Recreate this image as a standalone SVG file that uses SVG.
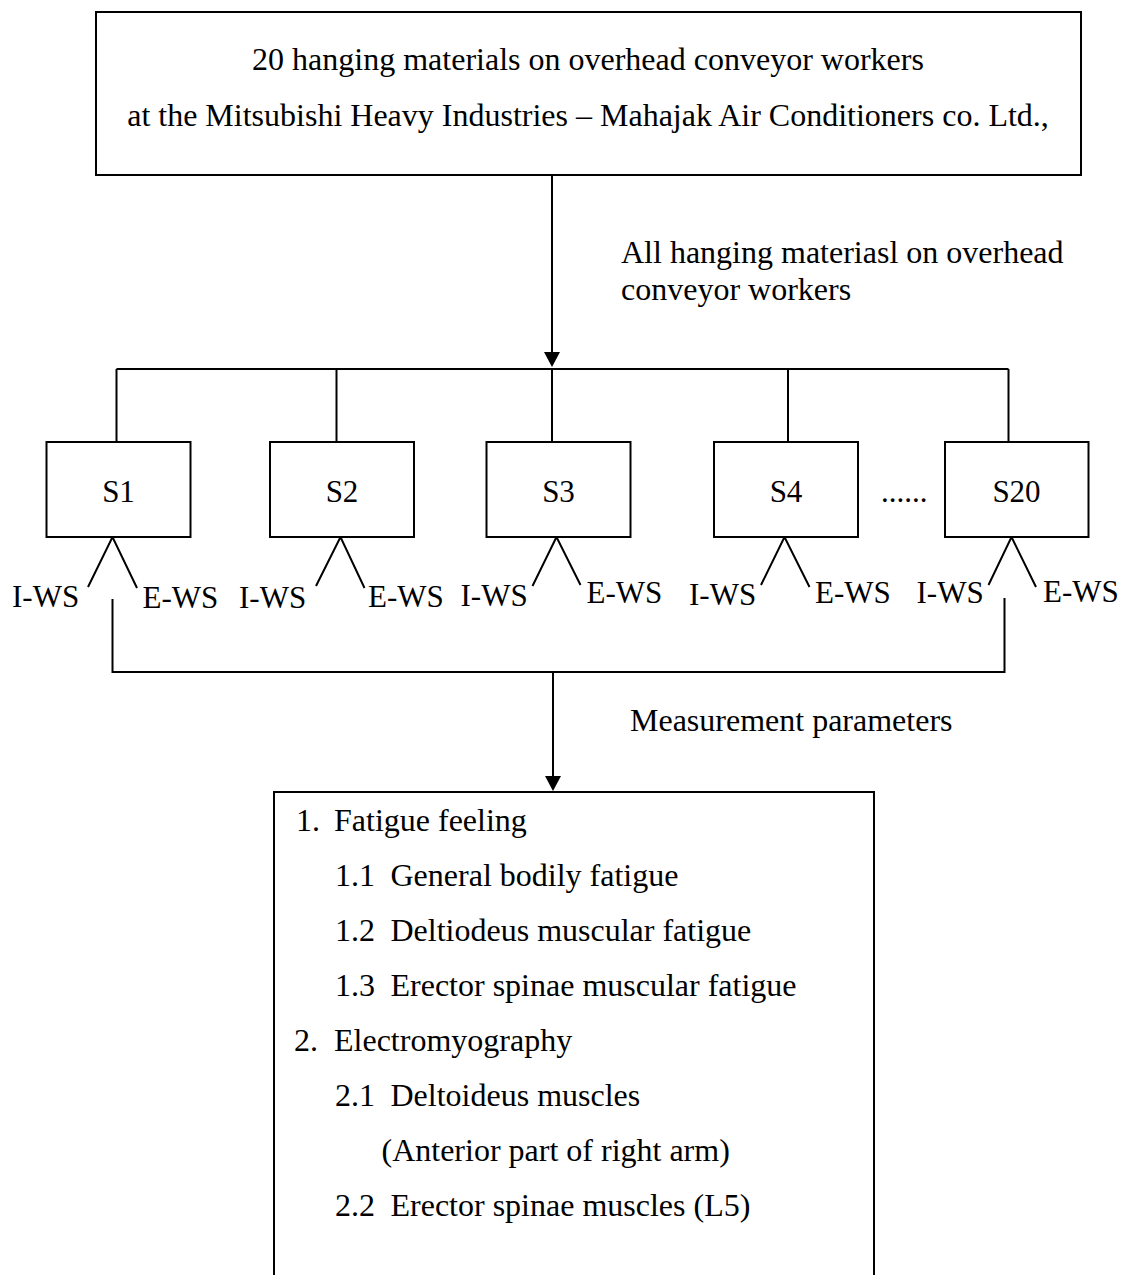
<svg xmlns="http://www.w3.org/2000/svg" width="1128" height="1275" viewBox="0 0 1128 1275">
<style>
  text { font-family: "Liberation Serif", "Times New Roman", serif; fill: #000; }
  .t32 { font-size: 32px; }
  .t31 { font-size: 31px; }
  .mid { text-anchor: middle; }
  .box { fill: #fff; stroke: #000; stroke-width: 2; }
  .ln { fill: none; stroke: #000; stroke-width: 2; }
  .head { fill: #000; stroke: none; }
</style>
<rect width="1128" height="1275" fill="#fff"/>

<g id="connectors">
  <line class="ln" x1="552" y1="175" x2="552" y2="353"/>
  <path class="head" d="M544,352 L560,352 L552,367 Z"/>
  <line class="ln" x1="116.5" y1="369" x2="1008.5" y2="369"/>
  <line class="ln" x1="116.5" y1="369" x2="116.5" y2="442"/>
  <line class="ln" x1="336.5" y1="369" x2="336.5" y2="442"/>
  <line class="ln" x1="552" y1="369" x2="552" y2="442"/>
  <line class="ln" x1="788" y1="369" x2="788" y2="442"/>
  <line class="ln" x1="1008.5" y1="369" x2="1008.5" y2="442"/>
  <polyline class="ln" points="88,587 112.5,537 137,588"/>
  <polyline class="ln" points="316,586 340.5,537 364.5,588"/>
  <polyline class="ln" points="532.5,586 556.5,537 580.5,585"/>
  <polyline class="ln" points="761,585 784.5,537 809.5,587"/>
  <polyline class="ln" points="988.5,585 1011.5,537 1036,587"/>
  <polyline class="ln" points="112.5,599 112.5,672 1004.5,672 1004.5,598"/>
  <line class="ln" x1="553" y1="672" x2="553" y2="777"/>
  <path class="head" d="M545,776 L561,776 L553,791 Z"/>
</g>

<g id="top">
  <rect class="box" x="96" y="12" width="985" height="163"/>
  <text class="t32 mid" x="588" y="70">20 hanging materials on overhead conveyor workers</text>
  <text class="t32 mid" x="588" y="126">at the Mitsubishi Heavy Industries – Mahajak Air Conditioners co. Ltd.,</text>
</g>

<g id="label-all">
  <text class="t32" x="621" y="263">All hanging materiasl on overhead</text>
  <text class="t32" x="621" y="300">conveyor workers</text>
</g>

<g id="S1">
  <rect class="box" x="46.5" y="442" width="144" height="95"/>
  <text class="t31 mid" x="118.5" y="501.5">S1</text>
</g>
<g id="S2">
  <rect class="box" x="270" y="442" width="144" height="95"/>
  <text class="t31 mid" x="342" y="501.5">S2</text>
</g>
<g id="S3">
  <rect class="box" x="486.5" y="442" width="144" height="95"/>
  <text class="t31 mid" x="558.5" y="501.5">S3</text>
</g>
<g id="S4">
  <rect class="box" x="714" y="442" width="144" height="95"/>
  <text class="t31 mid" x="786" y="501.5">S4</text>
</g>
<g id="dots">
  <text class="t31" x="881" y="501.5">......</text>
</g>
<g id="S20">
  <rect class="box" x="945" y="442" width="143.5" height="95"/>
  <text class="t31 mid" x="1016.5" y="501.5">S20</text>
</g>

<g id="ws-labels">
  <text class="t31" x="12" y="607">I-WS</text>
  <text class="t31" x="142.5" y="607.5">E-WS</text>
  <text class="t31" x="239" y="608">I-WS</text>
  <text class="t31" x="368" y="607">E-WS</text>
  <text class="t31" x="460.5" y="605.5">I-WS</text>
  <text class="t31" x="586.5" y="603">E-WS</text>
  <text class="t31" x="689" y="605">I-WS</text>
  <text class="t31" x="815" y="603">E-WS</text>
  <text class="t31" x="916.5" y="603">I-WS</text>
  <text class="t31" x="1043" y="601.5">E-WS</text>
</g>

<g id="label-measure">
  <text class="t32" x="630" y="731">Measurement parameters</text>
</g>

<g id="parameters">
  <path class="ln" d="M274,1280 L274,792 L874,792 L874,1280"/>
  <text class="t32" x="296" y="831">1.</text>
  <text class="t32" x="334" y="831">Fatigue feeling</text>
  <text class="t32" x="335" y="886">1.1</text>
  <text class="t32" x="390.5" y="886">General bodily fatigue</text>
  <text class="t32" x="335" y="941">1.2</text>
  <text class="t32" x="390.5" y="941">Deltiodeus muscular fatigue</text>
  <text class="t32" x="335" y="996">1.3</text>
  <text class="t32" x="390.5" y="996">Erector spinae muscular fatigue</text>
  <text class="t32" x="294" y="1051">2.</text>
  <text class="t32" x="334" y="1051">Electromyography</text>
  <text class="t32" x="335" y="1106">2.1</text>
  <text class="t32" x="390.5" y="1106">Deltoideus muscles</text>
  <text class="t32" x="381.5" y="1161">(Anterior part of right arm)</text>
  <text class="t32" x="335" y="1216">2.2</text>
  <text class="t32" x="390.5" y="1216">Erector spinae muscles (L5)</text>
</g>
</svg>
